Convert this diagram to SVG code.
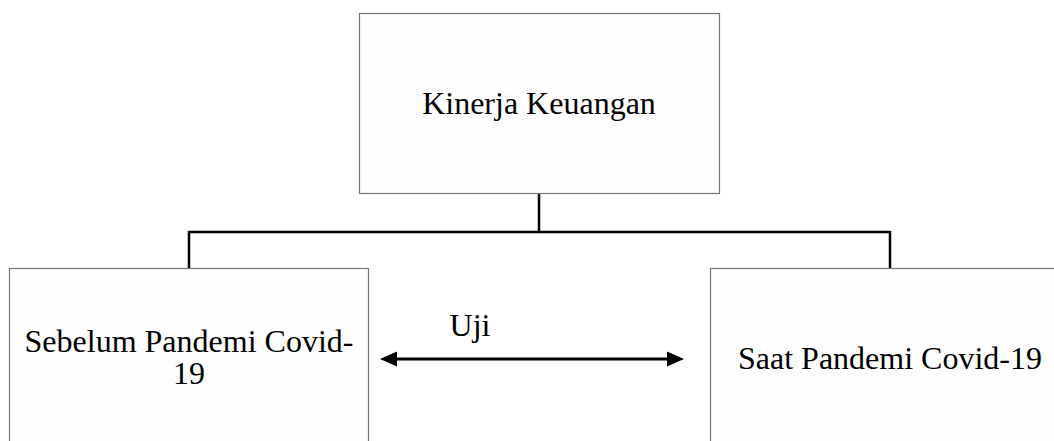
<svg xmlns="http://www.w3.org/2000/svg" width="1054" height="441" viewBox="0 0 1054 441">
<defs>
<style>
.box{fill:#fdfdfd;stroke:#777;stroke-width:1.2}
.lbl{font-family:"Liberation Serif","Times New Roman",serif;font-size:32px;fill:#000;text-anchor:middle}
.conn{fill:none;stroke:#000;stroke-width:2.5}
</style>
</defs>
<rect width="1054" height="441" fill="#fff"/>
<g id="connectors">
<path class="conn" d="M539,193 V232 M189,232 H890 M189,231 V268 M890,231 V268"/>
<line x1="397" y1="359" x2="667" y2="359" stroke="#000" stroke-width="3"/>
<path d="M380,359 L397,351.5 L397,366.5 z" fill="#000"/>
<path d="M684,359 L667,351.5 L667,366.5 z" fill="#000"/>
<text class="lbl" x="470" y="336">Uji</text>
</g>
<g id="kinerja">
<rect class="box" x="359.5" y="13.5" width="360" height="180"/>
<text class="lbl" x="539" y="114">Kinerja Keuangan</text>
</g>
<g id="sebelum">
<rect class="box" x="9.5" y="268.5" width="359" height="200"/>
<text class="lbl" x="189" y="352">Sebelum Pandemi Covid-<tspan x="189" y="384">19</tspan></text>
</g>
<g id="saat">
<rect class="box" x="710.5" y="268.5" width="360" height="200"/>
<text class="lbl" x="890" y="369">Saat Pandemi Covid-19</text>
</g>
</svg>
